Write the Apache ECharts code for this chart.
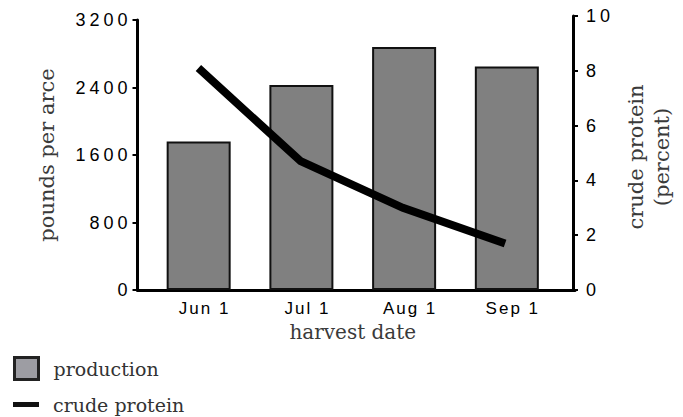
<!DOCTYPE html>
<html>
<head>
<meta charset="utf-8">
<script src="https://cdn.jsdelivr.net/npm/echarts@6/dist/echarts.min.js"></script>
<style>
  html, body { margin: 0; padding: 0; background: #fff; }
  #chart { width: 683px; height: 417px; }
  #chart text[style*="18px"] { letter-spacing: 4px; }
  #chart text[style*="17px"] { letter-spacing: 2px; }
</style>
</head>
<body>
<div id="chart"></div>
<script>
const categories = ['Jun 1', 'Jul 1', 'Aug 1', 'Sep 1'];
const production = [1760, 2430, 2880, 2650];
const crudeProtein = [8.1, 4.7, 3.0, 1.7];
const leftTicks = { min: 0, max: 3200, interval: 800 };
const rightTicks = { min: 0, max: 10, interval: 2 };

const sansFont = 'Liberation Sans';
const serifFont = 'DejaVu Serif';

const chart = echarts.init(document.getElementById('chart'), null, { renderer: 'svg' });

const yTickLabel = { fontFamily: sansFont, fontSize: 18, color: '#000', formatter: v => String(v) };
const xTickLabel = { fontFamily: sansFont, fontSize: 17, color: '#000' };
const nameStyle = { fontFamily: serifFont, fontSize: 20, color: '#3a3a3a' };

chart.setOption({
  animation: false,
  backgroundColor: '#fff',
  grid: [
    { left: 147.3, right: 124.8, top: 20, bottom: 127 },
    { left: 147.3, right: 124.8, top: 16, bottom: 127 },
    { left: 137.5, right: 108, top: 16, bottom: 127 }
  ],
  xAxis: [
    {
      gridIndex: 0, type: 'category', data: categories,
      axisLine: { show: false }, axisTick: { show: false },
      axisLabel: { ...xTickLabel, margin: 10, padding: [0, 0, 0, 12] },
      name: 'harvest date', nameLocation: 'middle', nameGap: 32,
      nameTextStyle: nameStyle
    },
    {
      gridIndex: 1, type: 'category', data: categories, show: false
    },
    {
      gridIndex: 2, type: 'category', data: categories,
      axisLine: { show: true, lineStyle: { color: '#000', width: 3 } },
      axisTick: { show: false }, axisLabel: { show: false }
    }
  ],
  yAxis: [
    {
      gridIndex: 0, type: 'value', position: 'left', offset: 9.8,
      min: leftTicks.min, max: leftTicks.max, interval: leftTicks.interval,
      splitLine: { show: false },
      axisLine: { show: true, lineStyle: { color: '#000', width: 3 } },
      axisTick: { show: true, length: 5, lineStyle: { color: '#000', width: 2 } },
      axisLabel: { ...yTickLabel, margin: 6 },
      name: 'pounds per arce', nameLocation: 'middle', nameRotate: 90, nameGap: 80,
      nameTextStyle: { ...nameStyle, fontSize: 21 }
    },
    {
      gridIndex: 1, type: 'value', position: 'right', offset: 16.8,
      min: rightTicks.min, max: rightTicks.max, interval: rightTicks.interval,
      splitLine: { show: false },
      axisLine: { show: true, lineStyle: { color: '#000', width: 3 } },
      axisTick: { show: true, length: 5, lineStyle: { color: '#000', width: 2 } },
      axisLabel: { ...yTickLabel, margin: 13 },
      name: 'crude protein\n(percent)', nameLocation: 'middle', nameRotate: 90, nameGap: 50,
      nameTextStyle: { ...nameStyle, fontSize: 21, lineHeight: 26, padding: [0, 8, 0, 0] }
    },
    {
      gridIndex: 2, type: 'value', show: false
    }
  ],
  legend: [
    {
      data: ['production'], orient: 'vertical', left: 13, top: 356, padding: 0,
      itemWidth: 24, itemHeight: 22, icon: 'rect',
      itemStyle: { color: '#9d9da3', borderColor: '#222', borderWidth: 3 },
      textStyle: { fontFamily: serifFont, fontSize: 19, color: '#333', padding: [0, 0, 0, 10] }
    },
    {
      data: ['crude protein'], orient: 'vertical', left: 13, top: 395, padding: 0,
      itemWidth: 26, itemHeight: 5, icon: 'rect',
      itemStyle: { color: '#111', borderWidth: 0 },
      textStyle: { fontFamily: serifFont, fontSize: 19, color: '#333', padding: [0, 0, 0, 9] }
    }
  ],
  series: [
    {
      name: 'production', type: 'bar', xAxisIndex: 0, yAxisIndex: 0,
      data: production, barWidth: 64,
      itemStyle: { color: '#808080', borderColor: '#111', borderWidth: 2 },
      z: 2
    },
    {
      name: 'crude protein', type: 'line', xAxisIndex: 1, yAxisIndex: 1,
      data: crudeProtein, symbol: 'none',
      lineStyle: { color: '#000', width: 8, cap: 'butt', join: 'miter' },
      z: 5
    }
  ]
});
</script>
</body>
</html>
